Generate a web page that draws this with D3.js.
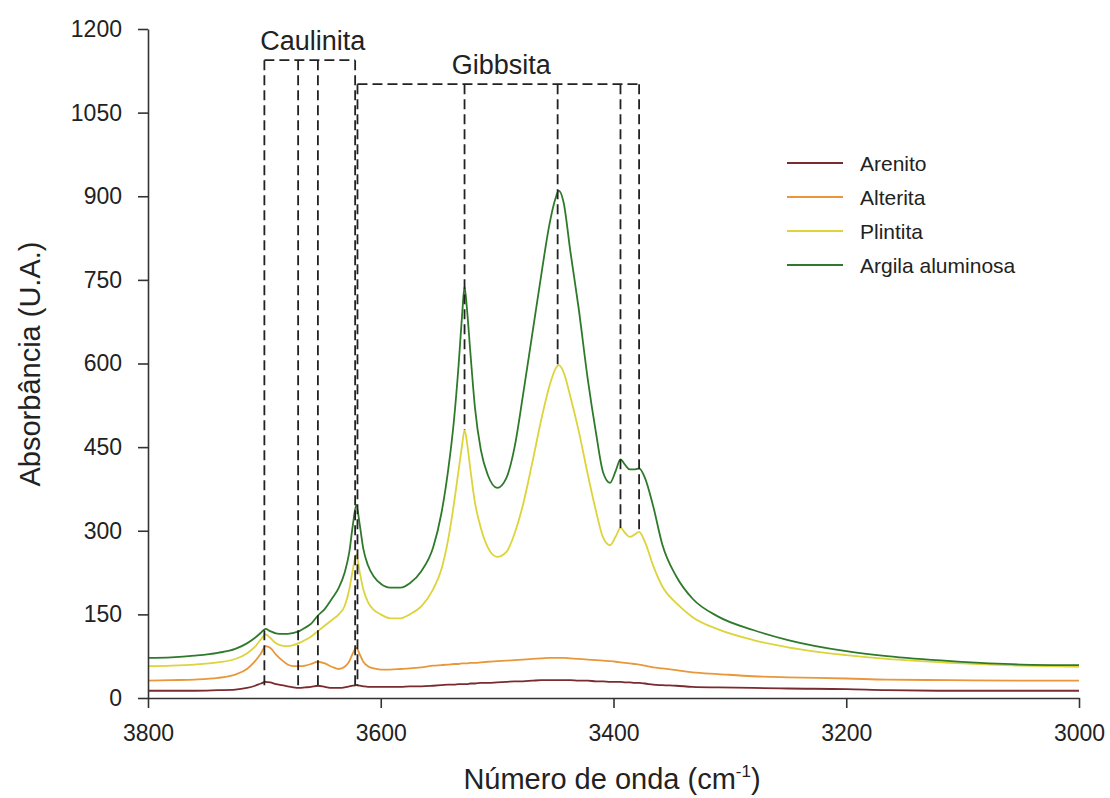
<!DOCTYPE html>
<html>
<head>
<meta charset="utf-8">
<script src="https://cdn.jsdelivr.net/npm/d3@7"></script>
<style>
  body { margin: 0; background: #fff; }
  text { font-family: Arial, "Liberation Sans", sans-serif; fill: #222; }
</style>
</head>
<body>
<svg id="chart" width="1110" height="798"></svg>
<script>
// wavenumber (cm-1)
const wavenumbers = [
  3800, 3780, 3760, 3740, 3725, 3715, 3708, 3703, 3699, 3695,
  3690, 3685, 3680, 3675, 3670, 3665, 3660, 3654, 3648, 3642,
  3636, 3631, 3627, 3624, 3621, 3618, 3615, 3611, 3606, 3600,
  3592, 3583, 3575, 3565, 3555, 3548, 3542, 3537, 3533, 3530,
  3528, 3526, 3523, 3519, 3514, 3508, 3500, 3492, 3485, 3478,
  3470, 3462, 3455, 3450, 3447, 3443, 3437, 3430, 3422, 3415,
  3409, 3403, 3398, 3394, 3390, 3386, 3382, 3378, 3373, 3366,
  3358, 3346, 3332, 3310, 3280, 3250, 3200, 3165, 3110, 3050,
  3000
];

const arenito = [
  13, 13, 13, 14, 15, 18, 22, 26, 29, 28,
  25, 23, 21, 19, 18, 19, 20, 22, 20, 18,
  18, 19, 21, 22, 23, 22, 21, 20, 20, 20,
  20, 20, 21, 21, 22, 23, 24, 24, 25, 25,
  25, 25, 26, 26, 27, 27, 28, 29, 30, 30,
  31, 32, 32, 32, 32, 32, 32, 31, 31, 30,
  30, 29, 29, 29, 28, 28, 27, 27, 26, 24,
  23, 22, 20, 19, 18, 17, 16, 14, 13, 13,
  13
];

const alterita = [
  31, 32, 33, 36, 42, 52, 66, 80, 93, 90,
  78, 68, 60, 57, 57, 58, 61, 65, 62, 56,
  52, 56, 66, 80, 90, 78, 65, 57, 53, 51,
  51, 52, 53, 55, 58, 59, 60, 61, 61, 62,
  62, 62, 63, 63, 64, 65, 66, 67, 68, 69,
  70, 71, 72, 72, 72, 72, 71, 70, 69, 68,
  67, 66, 65, 64, 63, 62, 61, 60, 58, 55,
  53, 50, 46, 43, 39, 37, 35, 33, 32, 31,
  31
];

const plintita = [
  57, 58, 60, 64, 70, 80, 92, 105, 114, 108,
  98, 94, 93, 95, 99, 104, 110, 120, 130, 140,
  150, 165, 195, 230, 257, 225, 195, 172, 158, 150,
  143, 143, 150, 165, 195, 230, 285, 350, 410, 455,
  481, 460, 410, 350, 305, 270, 253, 262, 295, 345,
  420, 500, 560, 590, 597, 585, 540, 480, 400, 335,
  288, 274, 290, 305, 296, 289, 293, 298, 280, 238,
  200, 170, 145, 123, 104, 91, 77, 70, 63, 58,
  56
];

const argila = [
  72, 73, 76, 81, 88, 98, 108, 117, 124, 120,
  116, 115, 115, 117, 120, 126, 133, 148, 160, 178,
  198, 225, 262, 310, 346, 310, 268, 238, 218, 205,
  198, 198, 206, 228, 270, 330, 410, 500, 600, 690,
  738, 700, 620, 520, 445, 400, 377, 395, 450, 540,
  650, 760, 850, 895, 910, 890, 800, 700, 570, 475,
  405, 386, 408, 428, 418, 410, 410, 412, 395, 345,
  275, 218, 178, 146, 122, 104, 84, 75, 66, 60,
  59
];

const seriesNames = ["Arenito", "Alterita", "Plintita", "Argila aluminosa"];
const seriesValues = [arenito, alterita, plintita, argila];
const seriesColors = ["#7a2b2e", "#e8983a", "#dcd43a", "#2f7a2a"];

// band markers
const caulinitaBands = [3700, 3671, 3654, 3622];
const caulinitaEnds = [20, 20, 22, 22];
const caulinitaTop = 1144;
const gibbsitaBands = [3620, 3528, 3448, 3394, 3378];
const gibbsitaEnds = [22, 481, 597, 305, 298];
const gibbsitaTop = 1101;

const xTicks = [3800, 3600, 3400, 3200, 3000];
const yTicks = [0, 150, 300, 450, 600, 750, 900, 1050, 1200];

const margin = { top: 29, left: 148 };
const width = 931, height = 669;

const svg = d3.select("#chart");
const g = svg.append("g").attr("transform", `translate(${margin.left},${margin.top})`);

const x = d3.scaleLinear().domain([3800, 3000]).range([0, width]);
const y = d3.scaleLinear().domain([0, 1200]).range([height, 0]);

const line = d3.line()
  .x(d => x(d[0]))
  .y(d => y(d[1]))
  .curve(d3.curveMonotoneX);

seriesValues.forEach((vals, i) => {
  g.append("path")
    .datum(wavenumbers.map((w, k) => [w, vals[k]]))
    .attr("fill", "none")
    .attr("stroke", seriesColors[i])
    .attr("stroke-width", 1.8)
    .attr("d", line);
});

// dashed brackets
function drawBracket(bands, ends, top, label) {
  const dash = "10,5";
  g.append("line")
    .attr("x1", x(bands[0])).attr("x2", x(bands[bands.length - 1]))
    .attr("y1", y(top)).attr("y2", y(top))
    .attr("stroke", "#222").attr("stroke-width", 1.8)
    .attr("stroke-dasharray", dash);
  bands.forEach((b, i) => {
    g.append("line")
      .attr("x1", x(b)).attr("x2", x(b))
      .attr("y1", y(top)).attr("y2", y(ends[i]))
      .attr("stroke", "#222").attr("stroke-width", 1.8)
      .attr("stroke-dasharray", dash);
  });
  g.append("text")
    .attr("x", (x(bands[0]) + x(bands[bands.length - 1])) / 2 + 3)
    .attr("y", y(top) - 10)
    .attr("text-anchor", "middle")
    .attr("font-size", 27)
    .text(label);
}
drawBracket(caulinitaBands, caulinitaEnds, caulinitaTop, "Caulinita");
drawBracket(gibbsitaBands, gibbsitaEnds, gibbsitaTop, "Gibbsita");

// axes
const xAxis = g.append("g")
  .attr("transform", `translate(0,${height})`)
  .call(d3.axisBottom(x).tickValues(xTicks).tickSize(10).tickSizeOuter(0).tickPadding(17).tickFormat(d3.format("d")));
const yAxis = g.append("g")
  .call(d3.axisLeft(y).tickValues(yTicks).tickSize(10).tickSizeOuter(0).tickPadding(16).tickFormat(d3.format("d")));

[xAxis, yAxis].forEach(a => {
  a.selectAll("path, line").attr("stroke", "#333").attr("stroke-width", 1.6);
  a.selectAll("text").attr("font-size", 23).attr("fill", "#333")
    .style("font-family", "Arial, 'Liberation Sans', sans-serif");
});

// axis titles
svg.append("text")
  .attr("transform", "translate(40,364) rotate(-90)")
  .attr("text-anchor", "middle")
  .attr("font-size", 29)
  .text("Absorbância (U.A.)");

const xt = svg.append("text")
  .attr("x", 612).attr("y", 789)
  .attr("text-anchor", "middle")
  .attr("font-size", 29);
xt.append("tspan").text("Número de onda (cm");
xt.append("tspan").attr("font-size", 17).attr("dy", -12).text("-1");
xt.append("tspan").attr("dy", 12).text(")");

// legend
const legend = svg.append("g").attr("transform", "translate(787,163)");
seriesNames.forEach((name, i) => {
  const row = legend.append("g").attr("transform", `translate(0,${i * 34})`);
  row.append("line")
    .attr("x1", 0).attr("x2", 56)
    .attr("stroke", seriesColors[i]).attr("stroke-width", 1.8);
  row.append("text")
    .attr("x", 73).attr("y", 8)
    .attr("font-size", 21)
    .text(name);
});
</script>
</body>
</html>
